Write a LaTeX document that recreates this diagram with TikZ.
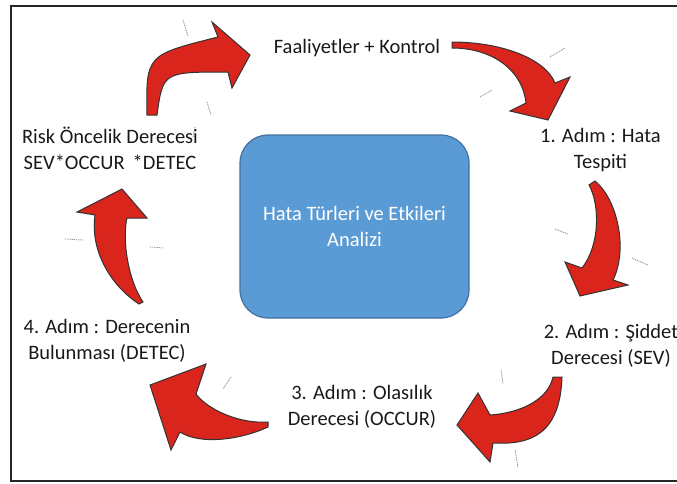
\documentclass[tikz,border=0pt]{standalone}
\usepackage{fontspec}
\setmainfont{Carlito}
\definecolor{arrred}{RGB}{218,37,29}
\definecolor{boxblue}{RGB}{91,155,213}
\definecolor{boxedge}{RGB}{65,113,156}
\tikzset{
  redarrow/.style={fill=arrred, draw=black!80, line width=1pt, line join=miter},
  lbl/.style={align=center, font=\fontsize{20.5}{26}\selectfont, text=black!90, inner sep=0pt},
  tickmark/.style={draw=black!45, line width=0.9pt, dash pattern=on 0.9pt off 0.9pt},
}
\begin{document}
\begin{tikzpicture}[x=1pt,y=-1pt]
\useasboundingbox (0,0) rectangle (677,483);
% frame
\draw[line width=2pt, black!85] (11,6) rectangle (700,481);

% central box
\node[draw=boxedge, fill=boxblue, line width=1.2pt, rounded corners=28pt,
      minimum width=229pt, minimum height=183pt, text=white, align=center,
      font=\fontsize{20.5}{26}\selectfont] (core) at (354.5,226.5)
      {Hata Türleri ve Etkileri\\Analizi};

% labels
\node[lbl] (fa) at (357,48) {Faaliyetler + Kontrol};
\node[lbl] (s1) at (600.5,150) {1. Adım : Hata\\Tespiti};
\node[lbl] (s2) at (611,346) {2. Adım : Şiddet\\Derecesi (SEV)};
\node[lbl] (s3) at (362,407) {3. Adım : Olasılık\\Derecesi (OCCUR)};
\node[lbl] (s4) at (107,341) {4. Adım : Derecenin\\Bulunması (DETEC)};
\node[lbl] (risk) at (110,148.5) {Risk Öncelik Derecesi\\SEV*OCCUR\ \,*DETEC};

% arrow A (Risk -> Faaliyetler)
\path[redarrow] (147,115) .. controls (146,55) .. (218,37) -- (212,22) -- (250,55)
  -- (232,88) -- (228,72) .. controls (163,72) .. (157,115) -- cycle;
% arrow B (Faaliyetler -> 1. Adim)
\path[redarrow] (452,42) .. controls (500,42) and (545,58) .. (555,83) -- (570,77)
  -- (548,120) -- (510,111) -- (526,103) .. controls (522,68) and (490,48) .. (452,48) -- cycle;
% arrow C (1. Adim -> 2. Adim)
\path[redarrow] (595,181) .. controls (618,200) and (628,250) .. (613,280) -- (628,285)
  -- (580,296) -- (565,262) -- (582,268) .. controls (600,245) and (600,205) .. (589,185) -- cycle;
% arrow D (2. Adim -> 3. Adim)
\path[redarrow] (562,377) .. controls (560,435) and (530,445) .. (493,443) -- (490,462)
  -- (457,425) -- (478,393) -- (490,415) .. controls (520,413) and (548,400) .. (553,377) -- cycle;
% arrow E (3. Adim -> 4. Adim)
\path[redarrow] (268,422) .. controls (240,424) and (208,410) .. (196,394) -- (206,364)
  -- (150,385) -- (171,450) -- (180,432) .. controls (200,445) and (240,440) .. (268,427) -- cycle;
% arrow F (4. Adim -> Risk)
\path[redarrow] (143,302) .. controls (128,280) and (122,240) .. (127,218) -- (147,218)
  -- (122,189) -- (77,212) -- (95,215) .. controls (90,250) and (110,285) .. (139,304) -- cycle;

% small dotted ticks
\draw[tickmark] (183,20) -- (188,36);
\draw[tickmark] (207,102) -- (211,115);
\draw[tickmark] (195,127) -- (193,137);
\draw[tickmark] (550,57) -- (565,48);
\draw[tickmark] (480,97) -- (492,90);
\draw[tickmark] (555,229) -- (568,234);
\draw[tickmark] (632,258) -- (648,265);
\draw[tickmark] (501,370) -- (503,384);
\draw[tickmark] (515,450) -- (518,467);
\draw[tickmark] (231,377) -- (223,389);
\draw[tickmark] (65,239) -- (83,240);
\draw[tickmark] (150,247) -- (164,248);
\end{tikzpicture}
\end{document}
